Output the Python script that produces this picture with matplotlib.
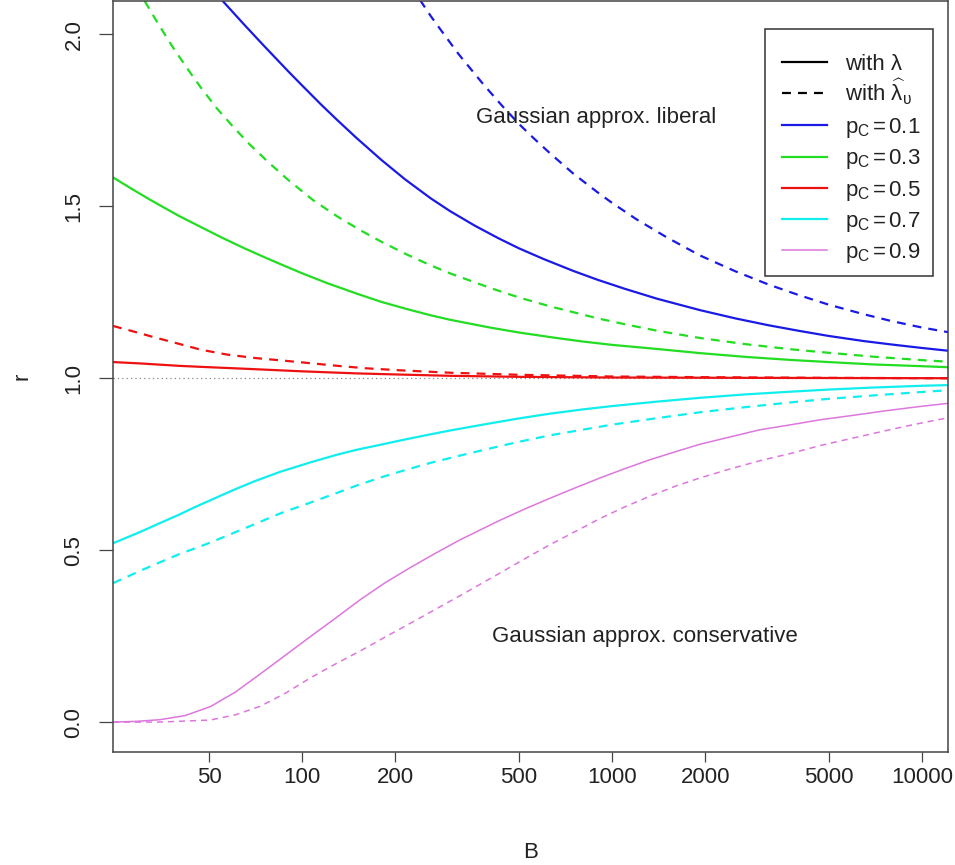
import matplotlib
matplotlib.use("Agg")
import matplotlib.pyplot as plt
from matplotlib.lines import Line2D
from matplotlib.patches import Rectangle
from matplotlib.ticker import FixedLocator, NullLocator

plt.rcParams['font.family'] = ['Liberation Sans', 'DejaVu Sans']
plt.rcParams['mathtext.fontset'] = 'custom'
plt.rcParams['mathtext.rm'] = 'Liberation Sans'
plt.rcParams['mathtext.it'] = 'Liberation Sans:italic'
plt.rcParams['mathtext.default'] = 'regular'

# ---- data ----
blue_solid_B = [55, 65, 75, 90, 100, 115, 130, 150, 180, 215, 260, 300, 360, 430, 500, 600, 750, 900,
                1100, 1400, 1923, 2500, 3200, 4000, 5000, 6500, 8000, 10000, 12150]
blue_solid_r = [2.10, 2.028, 1.968, 1.893, 1.851, 1.796, 1.75, 1.698, 1.635, 1.578, 1.523, 1.486, 1.444,
                1.407, 1.378, 1.347, 1.312, 1.286, 1.26, 1.231, 1.198, 1.174, 1.154, 1.138, 1.123,
                1.108, 1.098, 1.088, 1.080]

blue_dash_B = [240, 260, 280, 320, 384, 440, 500, 560, 631, 750, 900, 1000, 1200, 1500, 1923, 2500, 3200,
               4000, 5000, 6500, 8000, 10000, 12150]
blue_dash_r = [2.10, 2.053, 2.013, 1.942, 1.855, 1.794, 1.74, 1.697, 1.654, 1.595, 1.54, 1.51, 1.462,
               1.41, 1.357, 1.311, 1.2725, 1.242, 1.214, 1.186, 1.166, 1.1475, 1.134]

green_solid_B = [24.5, 28, 32, 36, 40, 47, 55, 65, 75, 87, 100, 120, 150, 180, 220, 260, 300, 400, 500, 650,
                 800, 1000, 1400, 1923, 2700, 3800, 5000, 7000, 10000, 12150]
green_solid_r = [1.584, 1.552, 1.521, 1.495, 1.472, 1.44, 1.409, 1.378, 1.353, 1.328, 1.305, 1.277, 1.246,
                 1.222, 1.20, 1.183, 1.17, 1.148, 1.133, 1.118, 1.107, 1.097, 1.085, 1.073, 1.062, 1.053,
                 1.047, 1.04, 1.035, 1.032]

green_dash_B = [31, 34, 38, 42, 47, 53, 60, 68, 78, 90, 108, 130, 155, 180, 215, 260, 300, 400, 500, 631,
                750, 900, 1100, 1400, 1923, 2700, 3800, 5000, 7000, 10000, 12150]
green_dash_r = [2.097, 2.036, 1.966, 1.908, 1.846, 1.785, 1.73, 1.678, 1.627, 1.577, 1.519, 1.47, 1.429,
                1.397, 1.362, 1.328, 1.305, 1.264, 1.235, 1.209, 1.192, 1.174, 1.157, 1.138, 1.117, 1.099,
                1.084, 1.074, 1.0625, 1.0526, 1.048]

red_solid_B = [24.5, 30, 40, 50, 60, 80, 100, 150, 200, 300, 500, 1000, 3000, 12150]
red_solid_r = [1.047, 1.043, 1.036, 1.032, 1.029, 1.024, 1.02, 1.014, 1.011, 1.007, 1.004, 1.002, 1.001, 1.0]

red_dash_B = [24.5, 28, 33, 40, 47, 57, 70, 85, 100, 130, 160, 207, 300, 500, 1000, 2000, 5000, 12150]
red_dash_r = [1.152, 1.138, 1.12, 1.10, 1.083, 1.069, 1.059, 1.052, 1.046, 1.036, 1.029, 1.023, 1.016,
              1.01, 1.005, 1.003, 1.001, 1.0]

cyan_solid_B = [24.5, 30, 35, 40, 45, 50.5, 60, 70, 85, 106, 130, 150, 180, 215, 260, 300, 400, 500, 631,
                800, 1000, 1400, 1923, 2700, 3800, 5000, 7000, 10000, 12150]
cyan_solid_r = [0.52, 0.553, 0.58, 0.603, 0.625, 0.645, 0.675, 0.70, 0.728, 0.755, 0.778, 0.792, 0.807,
                0.822, 0.837, 0.848, 0.868, 0.883, 0.897, 0.909, 0.919, 0.932, 0.943, 0.953, 0.961, 0.967,
                0.973, 0.978, 0.98]

cyan_dash_B = [24.5, 30, 35, 40, 45, 50.5, 60, 70, 85, 106, 130, 150, 180, 215, 260, 300, 400, 500, 631,
               800, 1000, 1400, 1923, 2700, 3800, 5000, 7000, 10000, 12150]
cyan_dash_r = [0.404, 0.44, 0.466, 0.488, 0.505, 0.522, 0.55, 0.575, 0.607, 0.638, 0.667, 0.688, 0.712,
               0.733, 0.754, 0.768, 0.795, 0.815, 0.834, 0.85, 0.865, 0.884, 0.901, 0.916, 0.93, 0.94,
               0.95, 0.96, 0.965]

pink_solid_B = [24.5, 29, 34.8, 41.9, 50.5, 60.8, 73.2, 88.1, 106, 128, 154, 185, 223, 268, 323, 435, 530,
                631, 760, 915, 1100, 1326, 1600, 1923, 2400, 3000, 3800, 4690, 6000, 7600, 9500, 12150]
pink_solid_r = [0.0, 0.002, 0.007, 0.019, 0.045, 0.087, 0.14, 0.194, 0.248, 0.302, 0.356, 0.405, 0.449,
                0.49, 0.53, 0.587, 0.622, 0.651, 0.681, 0.71, 0.737, 0.763, 0.786, 0.808, 0.829, 0.85,
                0.865, 0.879, 0.892, 0.905, 0.916, 0.927]

pink_dash_B = [24.5, 34.8, 50.5, 60.8, 73.2, 88.1, 106, 128, 154, 185, 223, 268, 323, 435, 530, 631, 760,
               915, 1100, 1326, 1600, 1923, 2400, 3000, 3800, 4690, 6000, 7600, 9500, 12150]
pink_dash_r = [0.0, 0.0, 0.006, 0.021, 0.046, 0.0835, 0.128, 0.169, 0.207, 0.247, 0.287, 0.327, 0.3675,
               0.4335, 0.478, 0.516, 0.554, 0.592, 0.626, 0.657, 0.686, 0.71, 0.736, 0.76, 0.782, 0.804,
               0.826, 0.847, 0.866, 0.885]

x_ticks = [50, 100, 200, 500, 1000, 2000, 5000, 10000]
x_tick_labels = ["50", "100", "200", "500", "1000", "2000", "5000", "10000"]
y_ticks = [0.0, 0.5, 1.0, 1.5, 2.0]
y_tick_labels = ["0.0", "0.5", "1.0", "1.5", "2.0"]

legend_labels = ["with λ", r"with $\widehat{\lambda}_{\upsilon}$",
                 r"p$_C$$\,$=$\,$0.1", r"p$_C$$\,$=$\,$0.3", r"p$_C$$\,$=$\,$0.5",
                 r"p$_C$$\,$=$\,$0.7", r"p$_C$$\,$=$\,$0.9"]

c_blue = "#1a1ae6"
c_green = "#22dd22"
c_red = "#ee1111"
c_cyan = "#11eeee"
c_pink = "#dd77dd"

# ---- figure ----
W, H = 955, 865
fig = plt.figure(figsize=(W / 100, H / 100), dpi=100)
ax = fig.add_axes([113/W, (H-752)/H, (948-113)/W, 751/H])
ax.set_xscale('log')
ax.set_xlim(24.5, 12150)
ax.set_ylim(-0.087, 2.097)

dash = (0, (4, 3.2))
lw = 1.6
ax.axhline(1.0, color="#888888", lw=0.9, ls=(0, (1, 2.5)), zorder=1)

ax.plot(blue_solid_B, blue_solid_r, color=c_blue, lw=lw)
ax.plot(blue_dash_B, blue_dash_r, color=c_blue, lw=lw, ls=dash)
ax.plot(green_solid_B, green_solid_r, color=c_green, lw=lw)
ax.plot(green_dash_B, green_dash_r, color=c_green, lw=lw, ls=dash)
ax.plot(red_solid_B, red_solid_r, color=c_red, lw=lw)
ax.plot(red_dash_B, red_dash_r, color=c_red, lw=lw, ls=dash)
ax.plot(cyan_solid_B, cyan_solid_r, color=c_cyan, lw=lw)
ax.plot(cyan_dash_B, cyan_dash_r, color=c_cyan, lw=lw, ls=dash)
ax.plot(pink_solid_B, pink_solid_r, color=c_pink, lw=1.1)
ax.plot(pink_dash_B, pink_dash_r, color=c_pink, lw=1.1, ls=dash)

ax.xaxis.set_major_locator(FixedLocator(x_ticks))
ax.xaxis.set_minor_locator(NullLocator())
ax.set_xticklabels(x_tick_labels)
ax.set_yticks(y_ticks)
ax.set_yticklabels(y_tick_labels, rotation=90, va='center')
ax.tick_params(axis='both', direction='out', width=0.9, color="#444444",
               labelsize=16, labelcolor="#222222")
ax.tick_params(axis='x', length=7, pad=4)
ax.tick_params(axis='y', length=10, pad=10.5)
for s in ax.spines.values():
    s.set_linewidth(1.1)
    s.set_color("#444444")

ax.set_xlabel("B", fontsize=16, color="#222222", labelpad=39)
ax.set_ylabel("r", fontsize=16, color="#222222", labelpad=22)

ax.text(889, 1.759, "Gaussian approx. liberal", ha='center', va='center', fontsize=16, color="#222222")
ax.text(1276, 0.25, "Gaussian approx. conservative", ha='center', va='center', fontsize=16, color="#222222")

# ---- legend, drawn by hand in figure pixel coordinates ----
frame = Rectangle((765/W, 1 - 276/H), 168/W, 247/H, transform=fig.transFigure,
                  facecolor='white', edgecolor='#333333', lw=1.1, zorder=4)
fig.patches.append(frame)

legend_styles = [
    ('black', lw, '-'), ('black', lw, dash), (c_blue, lw, '-'), (c_green, lw, '-'),
    (c_red, lw, '-'), (c_cyan, lw, '-'), (c_pink, 1.1, '-'),
]
row_centers = [62, 93, 125, 156.5, 188, 219, 250]
for (col, w, style), label, yc in zip(legend_styles, legend_labels, row_centers):
    yf = 1 - yc / H
    fig.add_artist(Line2D([782/W, 827/W], [yf, yf], transform=fig.transFigure,
                          color=col, lw=w, ls=style, zorder=5))
    fig.text(845/W, 1 - (yc + 8) / H, label, fontsize=16, color="#222222",
             ha='left', va='baseline', zorder=5)

fig.savefig("out.png", dpi=100)
